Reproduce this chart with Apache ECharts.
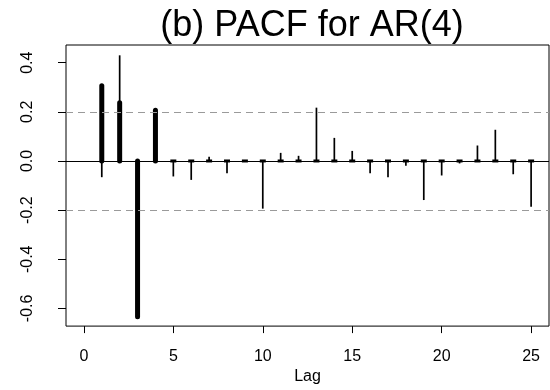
<!DOCTYPE html>
<html>
<head>
<meta charset="utf-8">
<script src="https://cdn.jsdelivr.net/npm/echarts@6/dist/echarts.min.js"></script>
<style>
html,body{margin:0;padding:0;background:#fff;}
#chart{width:550px;height:390px;}
</style>
</head>
<body>
<div id="chart"></div>
<script>
const titleText = "(b) PACF for AR(4)";
const xAxisName = "Lag";
const lags = [1,2,3,4,5,6,7,8,9,10,11,12,13,14,15,16,17,18,19,20,21,22,23,24,25];
const theoreticalPACF = [0.306,0.237,-0.634,0.206,0,0,0,0,0,0,0,0,0,0,0,0,0,0,0,0,0,0,0,0,0];
const samplePACF = [-0.066,0.430,-0.600,0.190,-0.063,-0.077,0.017,-0.050,0.004,-0.194,0.033,0.021,0.217,0.094,0.041,-0.050,-0.066,-0.019,-0.159,-0.059,-0.010,0.063,0.127,-0.054,-0.186];
const xTicks = [0,5,10,15,20,25];
const yTicks = [-0.6,-0.4,-0.2,0.0,0.2,0.4];
const confBand = 0.2;

const font = "'Liberation Sans', Arial, Helvetica, sans-serif";

function stemRenderer(width, dotAtZero) {
  return function (params, api) {
    const x = api.value(0), y = api.value(1);
    const p0 = api.coord([x, 0]);
    const p1 = api.coord([x, y]);
    if (dotAtZero && y === 0) {
      return {
        type: 'rect',
        shape: { x: p0[0] - width / 2 - 0.5, y: p0[1] - 1.5, width: width + 1, height: 3 },
        style: { fill: '#000' }
      };
    }
    return {
      type: 'line',
      shape: { x1: p0[0], y1: p0[1], x2: p1[0], y2: p1[1] },
      style: { stroke: '#000', lineWidth: width, lineCap: dotAtZero ? 'round' : 'butt' }
    };
  };
}

const chart = echarts.init(document.getElementById('chart'), null, { renderer: 'canvas' });
chart.setOption({
  animation: false,
  backgroundColor: '#fff',
  title: {
    text: titleText,
    left: 307, textAlign: 'center',
    top: 3,
    textStyle: { fontFamily: font, fontSize: 36, fontWeight: 'normal', color: '#000' }
  },
  grid: {
    left: 66, right: 1, top: 45, bottom: 58,
    show: true, borderColor: '#000', borderWidth: 1, backgroundColor: 'transparent'
  },
  xAxis: {
    type: 'value', min: -1, max: 26,
    name: xAxisName, nameLocation: 'middle', nameGap: 37,
    nameTextStyle: { fontFamily: font, fontSize: 16, color: '#000' },
    axisLine: { show: false, onZero: false },
    axisTick: { show: true, length: 7, lineStyle: { color: '#000', width: 1 }, customValues: xTicks },
    axisLabel: { fontFamily: font, fontSize: 16, color: '#000', margin: 22, customValues: xTicks, formatter: v => String(v) },
    splitLine: { show: false }
  },
  yAxis: {
    type: 'value', min: -0.672, max: 0.472,
    axisLine: { show: false, onZero: false },
    axisTick: { show: true, length: 8, lineStyle: { color: '#000', width: 1 }, customValues: yTicks },
    axisLabel: { fontFamily: font, fontSize: 16, color: '#000', rotate: 90, margin: 30, customValues: yTicks,
      formatter: v => Number(v).toFixed(1) },
    splitLine: { show: false }
  },
  series: [
    {
      type: 'line', data: [], silent: true,
      markLine: {
        silent: true, symbol: 'none', label: { show: false },
        data: [
          { yAxis: 0, lineStyle: { color: '#000', type: 'solid', width: 1.2 } },
          { yAxis: confBand, lineStyle: { color: '#9a9a9a', type: [7, 5], width: 1 } },
          { yAxis: -confBand, lineStyle: { color: '#9a9a9a', type: [7, 5], width: 1 } }
        ]
      }
    },
    {
      type: 'custom', renderItem: stemRenderer(1.7, false),
      data: lags.map((l, i) => [l, samplePACF[i]]), z: 3
    },
    {
      type: 'custom', renderItem: stemRenderer(5, true),
      data: lags.map((l, i) => [l, theoreticalPACF[i]]), z: 4
    }
  ]
});
</script>
</body>
</html>
